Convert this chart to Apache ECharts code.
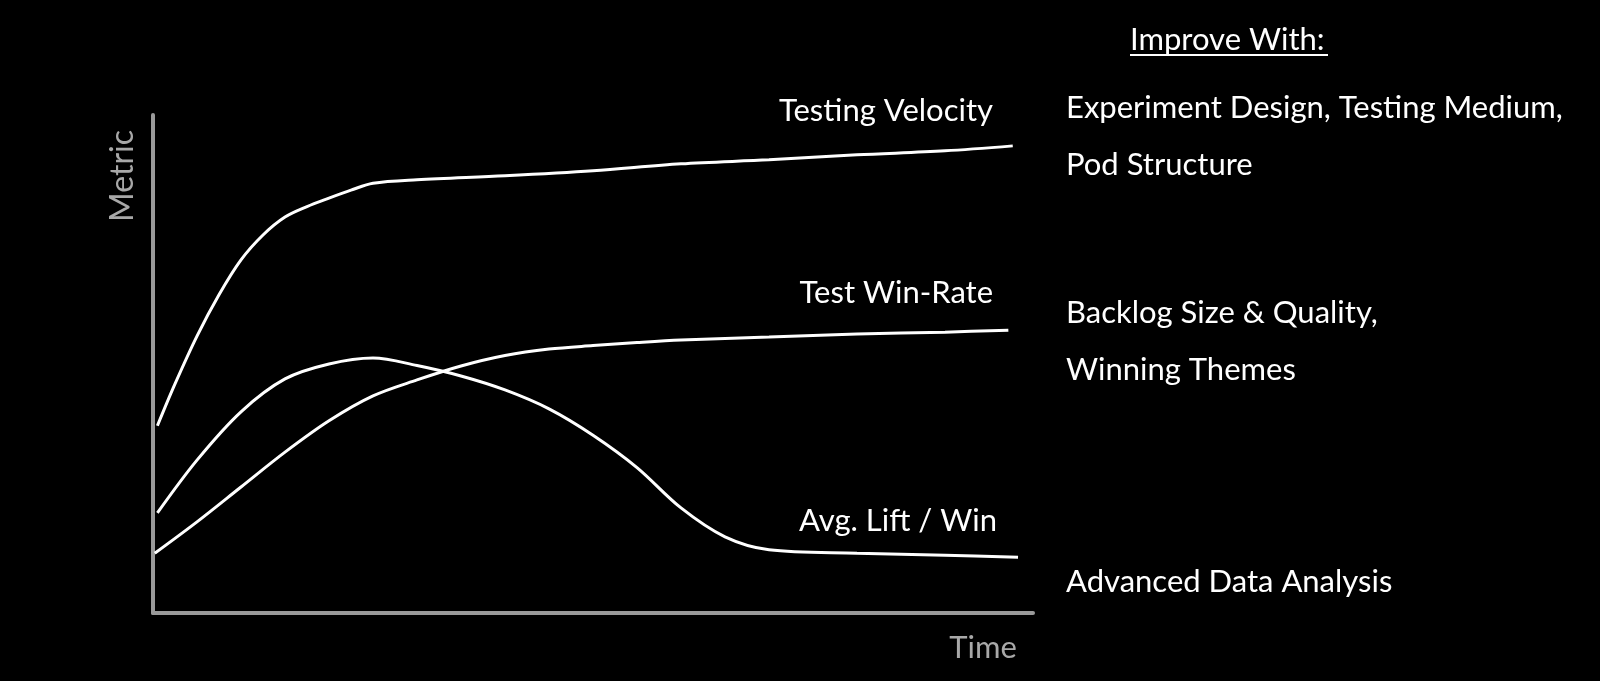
<!DOCTYPE html>
<html>
<head>
<meta charset="utf-8">
<script src="https://cdn.jsdelivr.net/npm/echarts@6/dist/echarts.min.js"></script>
<style>
html,body{margin:0;padding:0;background:#000;}
#chart{width:1600px;height:681px;}
</style>
</head>
<body>
<div id="chart"></div>
<script>
// Data (time 0-100, metric 0-100)
const timeVelocity = [0.5, 2.5, 5, 7.5, 10, 12.5, 15, 17.5, 20, 22.5, 25, 30, 40, 50, 60, 70, 80, 90, 97.7];
const testingVelocity = [37.6, 46.0, 55.6, 63.9, 70.9, 75.9, 79.5, 81.6, 83.3, 84.9, 86.3, 87.0, 87.8, 88.8, 90.2, 91.0, 92.0, 92.8, 93.8];

const timeLift = [0.5, 5, 10, 15, 20, 25, 30, 35, 40, 45, 50, 55, 60, 65, 70, 80, 90, 98.3];
const avgLiftPerWin = [20.1, 30.7, 40.4, 47.0, 50.0, 51.2, 49.7, 47.6, 44.8, 41.0, 35.7, 29.2, 21.1, 15.3, 12.7, 12.0, 11.6, 11.2];

const timeWin = [0.2, 5, 10, 15, 20, 25, 30, 35, 40, 45, 50, 55, 60, 70, 80, 90, 97.2];
const testWinRate = [12.0, 18.3, 25.3, 32.3, 38.6, 43.6, 46.8, 49.6, 51.7, 53.0, 53.7, 54.3, 54.8, 55.4, 56.0, 56.4, 56.8];

const seriesLabels = ['Testing Velocity', 'Test Win-Rate', 'Avg. Lift / Win'];
const axisNames = ['Time', 'Metric'];
const improveTitle = 'Improve With:';
const improveLines = ['Experiment Design, Testing Medium,', 'Pod Structure', 'Backlog Size & Quality,', 'Winning Themes', 'Advanced Data Analysis'];

function pairs(xs, ys){ return xs.map((x,i)=>[x, ys[i]]); }

const chart = echarts.init(document.getElementById('chart'));
const FONT = 'Lato';
const lineStyle = {color:'#ffffff', width:3};

const textItem = (t, x, y, align) => ({
  type:'text', x:x, y:y,
  style:{text:t, fill:'#ffffff', font:'31px ' + FONT, textAlign:align, textVerticalAlign:'middle'}
});

const rightTexts = [108, 165, 313, 370, 582];

const option = {
  backgroundColor:'#000000',
  animation:false,
  grid:{left:153, top:115, width:880, height:498},
  xAxis:{type:'value', min:0, max:100,
    axisLine:{show:true, lineStyle:{color:'#9a9a9a', width:4}},
    axisTick:{show:false}, axisLabel:{show:false}, splitLine:{show:false}},
  yAxis:{type:'value', min:0, max:100,
    axisLine:{show:true, lineStyle:{color:'#9a9a9a', width:4}},
    axisTick:{show:false}, axisLabel:{show:false}, splitLine:{show:false}},
  series:[
    {name:seriesLabels[0], type:'line', smooth:0.33, showSymbol:false, data:pairs(timeVelocity, testingVelocity), lineStyle:lineStyle},
    {name:seriesLabels[2], type:'line', smooth:0.33, showSymbol:false, data:pairs(timeLift, avgLiftPerWin), lineStyle:lineStyle},
    {name:seriesLabels[1], type:'line', smooth:0.33, showSymbol:false, data:pairs(timeWin, testWinRate), lineStyle:lineStyle}
  ],
  graphic:[
    textItem(seriesLabels[0], 993, 111, 'right'),
    textItem(seriesLabels[1], 993, 293, 'right'),
    textItem(seriesLabels[2], 997, 521, 'right'),
    {type:'text', x:983, y:648, style:{text:axisNames[0], fill:'#a8a8a8', font:'31px ' + FONT, textAlign:'center', textVerticalAlign:'middle'}},
    {type:'text', x:123, y:176, rotation:Math.PI/2, style:{text:axisNames[1], fill:'#a8a8a8', font:'32px ' + FONT, textAlign:'center', textVerticalAlign:'middle'}},
    textItem(improveTitle, 1130, 40, 'left'),
    {type:'rect', shape:{x:1130, y:54, width:198, height:2}, style:{fill:'#ffffff'}},
    textItem(improveLines[0], 1066, rightTexts[0], 'left'),
    textItem(improveLines[1], 1066, rightTexts[1], 'left'),
    textItem(improveLines[2], 1066, rightTexts[2], 'left'),
    textItem(improveLines[3], 1066, rightTexts[3], 'left'),
    textItem(improveLines[4], 1066, rightTexts[4], 'left')
  ]
};
chart.setOption(option);
</script>
</body>
</html>
